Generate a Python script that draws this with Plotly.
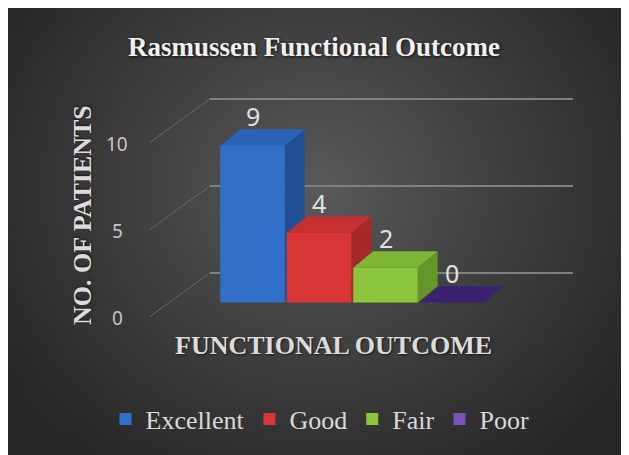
import base64, struct, zlib
import plotly.graph_objects as go

# ---------------- data ----------------
categories = ["Excellent", "Good", "Fair", "Poor"]
patients = [9, 4, 2, 0]
y_ticks = [0, 5, 10]
title_text = "Rasmussen Functional Outcome"
x_title = "FUNCTIONAL OUTCOME"
y_title = "NO. OF PATIENTS"

# ---------------- styles ----------------
front_cols = ["#3070c8", "#d83636", "#8dc63c", "#7a52b8"]
top_cols = ["#2b64b6", "#c53030", "#7eb636", "#3a2270"]
side_cols = ["#214f93", "#a72828", "#66952a", "#2c1a58"]
W, H = 621, 447
OFF = 8  # page body offset (screen px -> figure px)
BAR_W = 0.97
DX, DY = 0.30, 0.95          # pseudo-3D depth in data units
BACK_DY, FRONT_DY = 1.7, -0.8  # gridline depth offsets
GX0, GX1, GX2 = -1.54, -0.64, 4.82

def px(v):
    return (v - OFF) / W

def py(v):
    return 1 - (v - OFF) / H

# ---------------- background gradient image ----------------
def png_gray(w, h, rows):
    def chunk(tag, data):
        return struct.pack(">I", len(data)) + tag + data + struct.pack(">I", zlib.crc32(tag + data) & 0xffffffff)
    raw = b"".join(b"\x00" + bytes(r) for r in rows)
    return (b"\x89PNG\r\n\x1a\n" + chunk(b"IHDR", struct.pack(">IIBBBBB", w, h, 8, 0, 0, 0, 0))
            + chunk(b"IDAT", zlib.compress(raw, 9)) + chunk(b"IEND", b""))

gw, gh = 156, 112
rows = []
for j in range(gh):
    r = []
    for i in range(gw):
        x = (i + 0.5) / gw * W
        y = (j + 0.5) / gh * H
        d = (((x - 310) / 385) ** 2 + ((y - 180) / 350) ** 2) ** 0.5
        v = 38 + 52 * max(0.0, 1 - d) ** 1.1
        r.append(int(round(v)))
    rows.append(r)
bg_src = "data:image/png;base64," + base64.b64encode(png_gray(gw, gh, rows)).decode()

# ---------------- figure ----------------
fig = go.Figure()
xs = list(range(len(categories)))
for i, (c, v) in enumerate(zip(categories, patients)):
    fig.add_trace(go.Bar(x=[xs[i]], y=[v], name=c, width=BAR_W,
                         marker=dict(color=front_cols[i], line=dict(width=0)),
                         hoverinfo="name+y"))

shapes = []
for t in y_ticks:
    shapes.append(dict(type="line", xref="x", yref="y", x0=GX0, y0=t + FRONT_DY, x1=GX1, y1=t + BACK_DY,
                       line=dict(color="#686868", width=1), layer="below"))
    shapes.append(dict(type="line", xref="x", yref="y", x0=GX1, y0=t + BACK_DY, x1=GX2, y1=t + BACK_DY,
                       line=dict(color="#808080", width=2), layer="below"))
for i, v in enumerate(patients):
    x0, x1 = xs[i] - BAR_W / 2, xs[i] + BAR_W / 2
    side = f"M{x1},0 L{x1},{v} L{x1 + DX},{v + DY} L{x1 + DX},{DY} Z"
    top = f"M{x0},{v} L{x1},{v} L{x1 + DX},{v + DY} L{x0 + DX},{v + DY} Z"
    if v > 0:
        shapes.append(dict(type="path", xref="x", yref="y", path=side, fillcolor=side_cols[i],
                           line=dict(width=0), layer="below"))
    shapes.append(dict(type="path", xref="x", yref="y", path=top, fillcolor=top_cols[i],
                       line=dict(width=0), layer="below"))

annotations = []
for t in y_ticks:
    annotations.append(dict(text=str(t), xref="paper", yref="y", x=px(117), y=t, yshift=-15,
                            showarrow=False, xanchor="center", yanchor="middle",
                            font=dict(family="Noto Sans", size=19, color="#c4c4c4")))
for i, v in enumerate(patients):
    annotations.append(dict(text=str(v), xref="x", yref="y", x=xs[i], y=v, yshift=30,
                            showarrow=False, xanchor="center", yanchor="middle",
                            font=dict(family="Noto Sans", size=25, color="#e0e0e0")))
annotations.append(dict(text=y_title, xref="paper", yref="paper", x=px(82), y=py(215),
                        textangle=-90, showarrow=False, xanchor="center", yanchor="middle",
                        font=dict(family="Liberation Serif", size=26, weight="bold", color="#dcdcdc",
                                  shadow="1px 1px 2px rgba(0,0,0,0.6)")))
annotations.append(dict(text=x_title, xref="paper", yref="paper", x=px(333), y=py(345),
                        showarrow=False, xanchor="center", yanchor="middle",
                        font=dict(family="Liberation Serif", size=26, weight="bold", color="#dcdcdc",
                                  shadow="1px 1px 2px rgba(0,0,0,0.6)")))

x_lo, x_hi = -2.0, 5.5
px_per_x = 66.5
xd0 = px(252.5 + px_per_x * x_lo)
xd1 = px(252.5 + px_per_x * x_hi)
y_lo, y_hi = -2.0, 14.0
px_per_y = 17.4
yd0 = py(302.5 - px_per_y * y_lo)
yd1 = py(302.5 - px_per_y * y_hi)

fig.update_layout(
    width=W, height=H,
    margin=dict(l=0, r=0, t=0, b=0),
    paper_bgcolor="#333333",
    plot_bgcolor="rgba(0,0,0,0)",
    barmode="overlay",
    title=dict(text=title_text, x=px(314), y=py(47), xanchor="center", yanchor="middle",
               font=dict(family="Liberation Serif", size=27, weight="bold", color="#f0f0f0",
                         shadow="1px 1px 3px rgba(0,0,0,0.8)")),
    xaxis=dict(range=[x_lo, x_hi], domain=[xd0, xd1], visible=False, fixedrange=True),
    yaxis=dict(range=[y_lo, y_hi], domain=[yd0, yd1], visible=False, fixedrange=True),
    showlegend=True,
    legend=dict(orientation="h", x=px(320), xanchor="center", y=py(419), yanchor="middle",
                bgcolor="rgba(0,0,0,0)",
                font=dict(family="Liberation Serif, Times New Roman, serif", size=26, color="#d9d9d9"),
                itemclick=False, itemdoubleclick=False, traceorder="normal"),
    shapes=shapes,
    annotations=annotations,
    images=[dict(source=bg_src, xref="paper", yref="paper", x=0, y=1,
                 sizex=1, sizey=1, xanchor="left", yanchor="top",
                 sizing="stretch", layer="below")],
)

fig.write_html("out.html",
               post_script="document.documentElement.style.overflow='hidden';"
                           "document.body.style.overflow='hidden';")
